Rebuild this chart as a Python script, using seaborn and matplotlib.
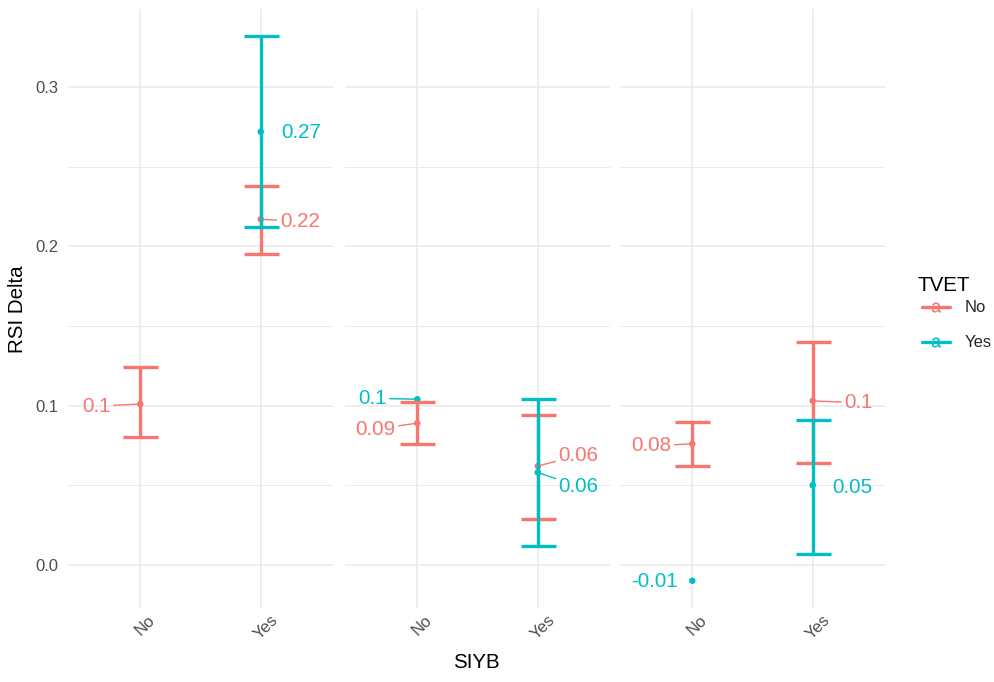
import numpy as np
import pandas as pd
import matplotlib
matplotlib.use("Agg")
import matplotlib.pyplot as plt
import matplotlib.transforms as mtransforms
from matplotlib.lines import Line2D
from matplotlib.ticker import MultipleLocator
import seaborn as sns

# Mean RSI Delta with 95% intervals by SIYB participation and TVET,
# one panel per group
group = ["g1", "g1", "g1", "g2", "g2", "g2", "g2", "g3", "g3", "g3", "g3"]
siyb = ["No", "Yes", "Yes", "No", "No", "Yes", "Yes", "No", "No", "Yes", "Yes"]
tvet = ["No", "No", "Yes", "No", "Yes", "No", "Yes", "No", "Yes", "No", "Yes"]
rsi_delta = [0.101, 0.217, 0.272, 0.089, 0.104, 0.062, 0.058, 0.076, -0.010, 0.103, 0.050]
ci_low = [0.080, 0.195, 0.212, 0.076, np.nan, 0.029, 0.012, 0.062, np.nan, 0.064, 0.007]
ci_high = [0.124, 0.238, 0.332, 0.102, np.nan, 0.094, 0.104, 0.090, np.nan, 0.140, 0.091]

siyb_levels = ["No", "Yes"]
tvet_levels = ["No", "Yes"]
group_levels = ["g1", "g2", "g3"]

# label placement (pixel offsets from each point) and whether a leader segment is drawn
label_dx = [-44, 39, 40, -42, -45, 41, 41, -41, -38, 46, 40]
label_dy = [2, 2, 1, 6, -1, -11, 14, 2, 1, 2, 2]
label_leader = [True, True, False, True, True, True, True, True, False, True, False]

df = pd.DataFrame({
    "group": group, "SIYB": siyb, "TVET": tvet,
    "rsi": rsi_delta, "lo": ci_low, "hi": ci_high,
    "dx": label_dx, "dy": label_dy, "leader": label_leader,
})
df["xpos"] = df["SIYB"].map({k: i for i, k in enumerate(siyb_levels)})
df["label"] = [f"{round(v, 2):g}" for v in df["rsi"]]

palette = {"No": "#F8766D", "Yes": "#00BFC4"}
grid_col = "#EBEBEB"
tick_col = "#4D4D4D"

sns.set_theme(style="white")
plt.rcParams["font.family"] = ["Liberation Sans", "DejaVu Sans"]
plt.rcParams["mathtext.fontset"] = "custom"
plt.rcParams["mathtext.rm"] = "Liberation Sans"

W, H = 994, 682
fig = plt.figure(figsize=(W / 100, H / 100), dpi=100)

# y range from data extent plus 5% expansion
ymin = np.nanmin(np.r_[df["lo"], df["rsi"]])
ymax = np.nanmax(np.r_[df["hi"], df["rsi"]])
pad = 0.05 * (ymax - ymin)
ylim = (ymin - pad, ymax + pad)

panel_left = [68, 345, 620]
panel_w = 265
top_px, bot_px = 9, 608

for gi, (g, lp) in enumerate(zip(group_levels, panel_left)):
    ax = fig.add_axes([lp / W, 1 - bot_px / H, panel_w / W, (bot_px - top_px) / H])
    sub = df[df["group"] == g]

    # points
    sns.scatterplot(data=sub, x="xpos", y="rsi", hue="TVET", hue_order=tvet_levels,
                    palette=palette, s=22, linewidth=0, legend=False, ax=ax, zorder=2)

    # error bars, TVET = Yes drawn on top
    for k, t in enumerate(tvet_levels):
        eb = sub[(sub["TVET"] == t) & sub["lo"].notna()]
        if len(eb):
            ax.errorbar(eb["xpos"], eb["rsi"],
                        yerr=[eb["rsi"] - eb["lo"], eb["hi"] - eb["rsi"]],
                        fmt="none", ecolor=palette[t], elinewidth=2.4,
                        capsize=12.6, capthick=2.4, zorder=3 + k)

    # value labels
    for _, r in sub.iterrows():
        col = palette[r["TVET"]]
        arrow = dict(arrowstyle="-", color=col, lw=1.0, shrinkA=0, shrinkB=2) if r["leader"] else None
        ax.annotate(r["label"], xy=(r["xpos"], r["rsi"]),
                    xytext=(r["dx"] * 0.72, -r["dy"] * 0.72), textcoords="offset points",
                    ha="center", va="center", fontsize=14.8, color=col,
                    arrowprops=arrow, zorder=6, annotation_clip=False)

    ax.set_xlim(-0.6, 1.6)
    ax.set_ylim(*ylim)
    ax.yaxis.set_major_locator(MultipleLocator(0.1))
    ax.yaxis.set_minor_locator(MultipleLocator(0.05))
    ax.set_xticks(range(len(siyb_levels)))
    ax.set_xticklabels(siyb_levels)
    ax.grid(which="major", axis="both", color=grid_col, linewidth=1.2)
    ax.grid(which="minor", axis="y", color=grid_col, linewidth=0.7)
    ax.set_axisbelow(True)
    for s in ax.spines.values():
        s.set_visible(False)
    ax.tick_params(which="both", length=0)
    ax.tick_params(axis="y", labelsize=12, labelcolor=tick_col, pad=7)
    ax.tick_params(axis="x", labelsize=12, labelcolor=tick_col, pad=3)
    for lbl in ax.get_xticklabels():
        lbl.set_rotation(45)
        lbl.set_ha("center")
        lbl.set_va("top")
        lbl.set_transform(lbl.get_transform() +
                          mtransforms.ScaledTranslation(5 / 100, 0, fig.dpi_scale_trans))
    if gi > 0:
        ax.set_yticklabels([])
    ax.set_xlabel("")
    ax.set_ylabel("")

fig.text(18 / W, 1 - 309 / H, "RSI Delta", rotation=90, ha="center", va="center",
         fontsize=14.8, color="black")
fig.text(476 / W, 1 - 663 / H, "SIYB", ha="center", va="center",
         fontsize=14.8, color="black")

# legend for TVET
fig.text(918 / W, 1 - 285 / H, "TVET", ha="left", va="center",
         fontsize=14.8, color="black")
handles = [Line2D([0], [0], color=palette[t], lw=2.4, marker=r"$\mathrm{a}$",
                  markersize=7, markeredgewidth=0.2) for t in tvet_levels]
fig.legend(handles, tvet_levels, loc="upper left",
           bbox_to_anchor=(914 / W, 1 - 292 / H), frameon=False,
           fontsize=12, handlelength=1.65, handletextpad=0.9,
           labelspacing=1.2, borderpad=0)

fig.savefig("out.png", dpi=100, facecolor="white")
